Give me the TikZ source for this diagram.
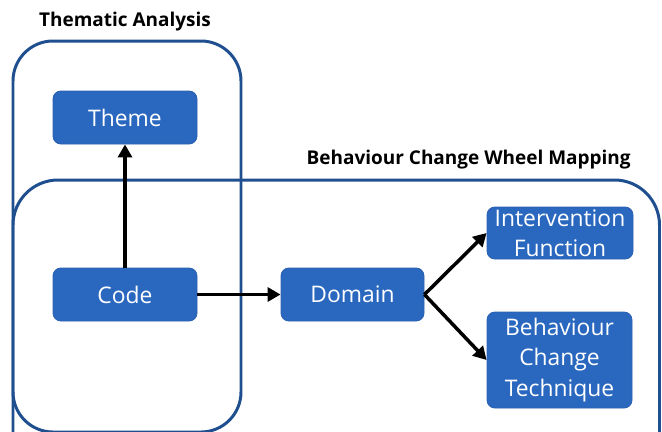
\documentclass[tikz,border=0pt]{standalone}
\usepackage{fontspec}
\setmainfont{Open Sans}
\usetikzlibrary{arrows.meta,positioning}
\definecolor{BoxFill}{HTML}{2A68BF}
\definecolor{BoxLine}{HTML}{2A60B0}
\definecolor{Frame}{HTML}{1F4F8F}
\tikzset{
  >={Triangle[length=2.6mm,width=2.8mm]},
  box/.style={rectangle,rounded corners=1.6mm,fill=BoxFill,draw=BoxLine,line width=.5pt,text=white,font=\fontsize{13}{17.3}\selectfont,align=center,minimum width=2.88cm,minimum height=1.06cm,inner sep=1pt},
  frame/.style={draw=Frame,line width=1.7pt},
  link/.style={->,line width=2pt,draw=black},
  title/.style={font=\fontsize{10.8}{12}\selectfont\bfseries,inner sep=0pt}
}
\begin{document}
\begin{tikzpicture}[x=1cm,y=1cm]
    \useasboundingbox (0,0) rectangle (13.24,-8.62);
    % group frames
    \draw[frame,rounded corners=0.8cm] (0.26,-0.82) rectangle (4.82,-8.64);
    \draw[frame,rounded corners=0.9cm] (0.26,-3.6) rectangle (13.19,-9.6);
    \node[title] (ta) at (2.5,-0.44) {Thematic Analysis};
    \node[title,anchor=east] (bcw) at (12.62,-3.2) {Behaviour Change Wheel Mapping};
    % steps
    \node[box] (theme) at (2.5,-2.35) {Theme};
    \node[box] (code) at (2.5,-5.89) {Code};
    \node[box,minimum width=2.86cm] (dom) at (7.05,-5.89) {Domain};
    \node[box,minimum width=2.92cm,minimum height=1.04cm] (ifn) at (11.2,-4.66) {Intervention\\Function};
    \node[box,minimum width=2.9cm,minimum height=1.92cm] (bct) at (11.19,-7.2) {Behaviour\\Change\\Technique};
    \draw[link] (code)--(theme);
    \draw[link] (code)--(dom);
    \draw[link] (dom.east)--(ifn.west);
    \draw[link] (dom.east)--(bct.west);
  \end{tikzpicture}
\end{document}
